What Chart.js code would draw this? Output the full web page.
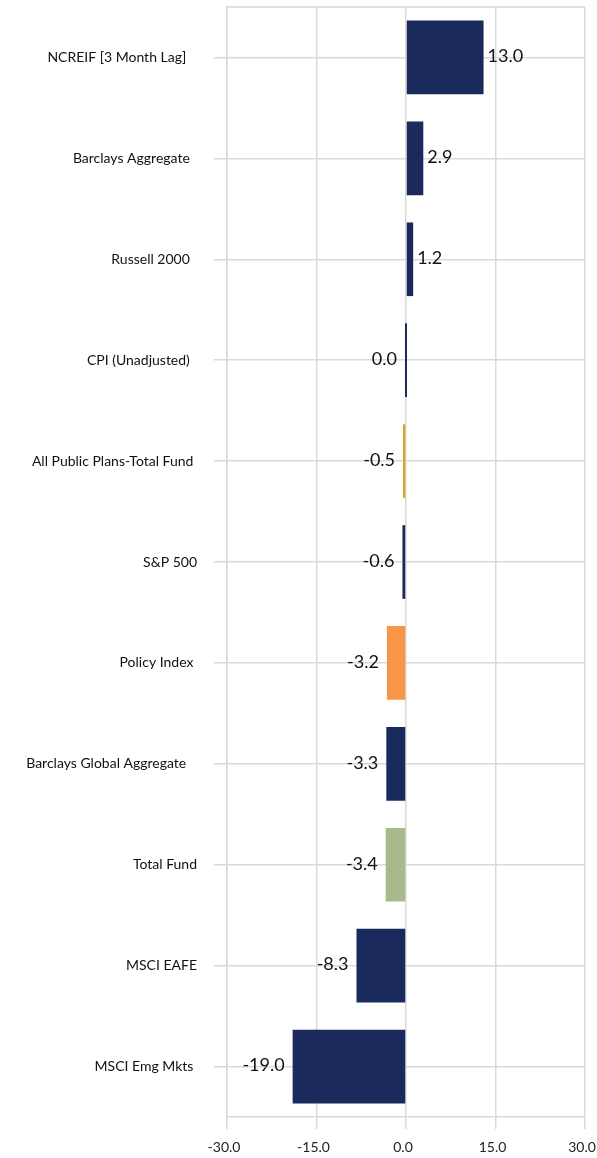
<!DOCTYPE html>
<html><head><meta charset="utf-8">
<script src="https://cdn.jsdelivr.net/npm/chart.js@4.4.1/dist/chart.umd.min.js"></script>
<style>html,body{margin:0;padding:0;background:#fff}#wrap{width:597px;height:1158px;position:relative}</style>
</head><body><div id="wrap"><canvas id="c"></canvas></div>
<script>
const categories = [
  "NCREIF [3 Month Lag]   ",
  "Barclays Aggregate  ",
  "Russell 2000  ",
  "CPI (Unadjusted)  ",
  "All Public Plans-Total Fund ",
  "S&P 500",
  "Policy Index ",
  "Barclays Global Aggregate   ",
  "Total Fund",
  "MSCI EAFE",
  "MSCI Emg Mkts "
];
const values = [13.0, 2.9, 1.2, 0.0, -0.5, -0.6, -3.2, -3.3, -3.4, -8.3, -19.0];
const barColors = ["#1b2a5c","#1b2a5c","#1b2a5c","#1b2a5c","#dba320","#1b2a5c","#f79646","#1b2a5c","#a8ba8a","#1b2a5c","#1b2a5c"];
const xTicks = [-30, -15, 0, 15, 30];

const GRID = "#d9d9d9";
const FONT = "Lato, 'Open Sans', sans-serif";

const frame = {
  id: "frame",
  beforeDatasetsDraw(chart) {
    const {ctx, chartArea: a} = chart;
    ctx.save();
    ctx.strokeStyle = GRID; ctx.lineWidth = 1.5;
    ctx.beginPath(); ctx.moveTo(a.left, a.top); ctx.lineTo(a.right, a.top); ctx.stroke();
    ctx.restore();
  }
};
const valueLabels = {
  id: "valueLabels",
  afterDatasetsDraw(chart) {
    const {ctx} = chart;
    const meta = chart.getDatasetMeta(0);
    ctx.save();
    ctx.font = "18px " + FONT;
    ctx.fillStyle = "#111";
    ctx.textBaseline = "middle";
    meta.data.forEach((bar, i) => {
      const v = values[i];
      const txt = v.toFixed(1);
      const base = chart.scales.x.getPixelForValue(0);
      if (v > 0) {
        ctx.textAlign = "left";
        ctx.fillText(txt, Math.max(bar.x, base) + 4, bar.y - 1);
      } else {
        ctx.textAlign = "right";
        ctx.fillText(txt, Math.min(bar.x, base) - 8, bar.y - 1);
      }
    });
    ctx.restore();
  }
};

new Chart(document.getElementById("c"), {
  type: "bar",
  data: {
    labels: categories,
    datasets: [{
      data: values,
      backgroundColor: barColors,
      categoryPercentage: 1,
      barPercentage: 0.73,
      minBarLength: 2
    }]
  },
  options: {
    indexAxis: "y",
    responsive: true,
    maintainAspectRatio: false,
    animation: false,
    layout: {padding: {top: 7, right: 12, left: 0, bottom: 0}},
    plugins: {legend: {display: false}, tooltip: {enabled: false}},
    scales: {
      x: {
        min: -30, max: 30,
        afterBuildTicks(s) { s.ticks = xTicks.map(v => ({value: v})); },
        afterFit(s) { s.height = 41; s.paddingLeft = 0; s.paddingRight = 0; },
        grid: {color: GRID, lineWidth: 1.5, tickLength: 12, tickColor: GRID},
        border: {color: GRID, width: 1.5},
        ticks: {
          padding: 10,
          labelOffset: -3,
          color: "#222",
          font: {family: FONT, size: 14},
          callback: v => Number(v).toFixed(1)
        }
      },
      y: {
        offset: true,
        afterFit(s) { s.width = 227; s.paddingTop = 0; s.paddingBottom = 0; },
        grid: {color: GRID, lineWidth: 1.5, offset: false, tickLength: 13, tickColor: GRID},
        border: {color: GRID, width: 1.5},
        ticks: {
          padding: 17,
          color: "#111",
          font: {family: FONT, size: 14}
        }
      }
    }
  },
  plugins: [frame, valueLabels]
});
</script>
</body></html>
